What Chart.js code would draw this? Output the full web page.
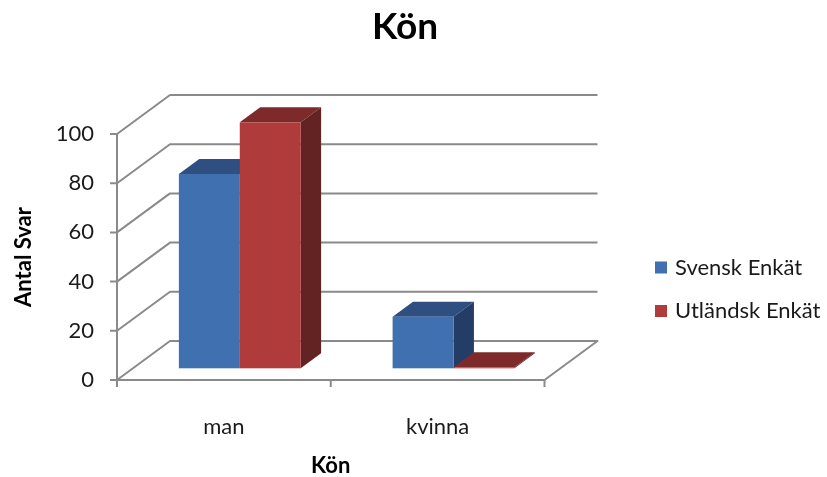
<!DOCTYPE html>
<html>
<head>
<meta charset="utf-8">
<script src="https://cdn.jsdelivr.net/npm/chart.js@4.4.0/dist/chart.umd.min.js"></script>
<style>
  html, body { margin: 0; padding: 0; background: #fff; }
</style>
</head>
<body>
<canvas id="chart" width="827" height="477"></canvas>
<script>
// data
const categories = ["man", "kvinna"];
const seriesNames = ["Svensk Enkät", "Utländsk Enkät"];
const svenskValues = [79, 21];
const utlandskValues = [100, 0];
const yTickValues = [0, 20, 40, 60, 80, 100];

// colours: front, top, side
const blueFaces = ["#4170b0", "#2e4f7f", "#243d66"];
const redFaces = ["#b03b3b", "#7e2a2a", "#632323"];

const FONT = "Lato";
const LINE = "#8a8a8a";

// oblique 3D look: back wall offset and where the bars sit in depth
const WALL_DX = 53, WALL_DY = -39;
const BAR_FRONT = 0.3, BAR_DEPTH = 0.385;

const box3d = {
  id: "box3d",
  beforeDatasetsDraw(chart) {
    const ctx = chart.ctx;
    const { left, right, top, bottom } = chart.chartArea;
    const y = chart.scales.y;
    ctx.save();
    ctx.strokeStyle = LINE;
    ctx.lineWidth = 2;
    ctx.lineJoin = "round";
    // left wall diagonals + back wall gridlines
    yTickValues.forEach(v => {
      const py = y.getPixelForValue(v);
      ctx.beginPath();
      ctx.moveTo(left, py);
      ctx.lineTo(left + WALL_DX, py + WALL_DY);
      ctx.lineTo(right + WALL_DX, py + WALL_DY);
      if (v === 0) ctx.lineTo(right, py);
      ctx.stroke();
    });
    // front value axis with ticks
    ctx.beginPath();
    ctx.moveTo(left, top);
    ctx.lineTo(left, bottom + 7);
    yTickValues.forEach(v => {
      const py = y.getPixelForValue(v);
      ctx.moveTo(left - 7, py);
      ctx.lineTo(left, py);
    });
    // front category axis with ticks
    ctx.moveTo(left - 7, bottom);
    ctx.lineTo(right, bottom);
    const catW = (right - left) / categories.length;
    for (let i = 0; i <= categories.length; i++) {
      ctx.moveTo(left + i * catW, bottom);
      ctx.lineTo(left + i * catW, bottom + 7);
    }
    ctx.stroke();
    ctx.restore();
  },
  beforeDatasetDraw() {
    return false; // bars are drawn as boxes below
  },
  afterDatasetsDraw(chart) {
    const ctx = chart.ctx;
    const sx = BAR_FRONT * WALL_DX, sy = BAR_FRONT * WALL_DY;
    const dx = BAR_DEPTH * WALL_DX, dy = BAR_DEPTH * WALL_DY;
    const faces = [blueFaces, redFaces];
    ctx.save();
    for (let i = 0; i < categories.length; i++) {
      chart.data.datasets.forEach((ds, d) => {
        const el = chart.getDatasetMeta(d).data[i];
        const x0 = el.x - el.width / 2 + sx, x1 = el.x + el.width / 2 + sx;
        const yt = Math.min(el.y, el.base - 1) + sy, yb = el.base + sy;
        const f = faces[d];
        // top
        ctx.fillStyle = f[1];
        ctx.beginPath();
        ctx.moveTo(x0, yt);
        ctx.lineTo(x1, yt);
        ctx.lineTo(x1 + dx, yt + dy);
        ctx.lineTo(x0 + dx, yt + dy);
        ctx.closePath();
        ctx.fill();
        // side
        ctx.fillStyle = f[2];
        ctx.beginPath();
        ctx.moveTo(x1, yt);
        ctx.lineTo(x1 + dx, yt + dy);
        ctx.lineTo(x1 + dx, yb + dy);
        ctx.lineTo(x1, yb);
        ctx.closePath();
        ctx.fill();
        // front
        ctx.fillStyle = f[0];
        ctx.fillRect(x0, yt, x1 - x0, yb - yt);
      });
    }
    ctx.restore();
  },
  afterDraw(chart) {
    // legend
    const ctx = chart.ctx;
    const rows = [267.5, 311];
    ctx.save();
    ctx.font = "22px " + FONT;
    ctx.textBaseline = "middle";
    ctx.fillStyle = "#1a1a1a";
    chart.data.datasets.forEach((ds, d) => {
      ctx.fillStyle = ds.backgroundColor;
      ctx.fillRect(655, rows[d] - 6, 12, 12);
      ctx.fillStyle = "#1a1a1a";
      ctx.fillText(ds.label, 675, rows[d]);
    });
    ctx.restore();
  }
};

new Chart(document.getElementById("chart"), {
  type: "bar",
  data: {
    labels: categories,
    datasets: [
      { label: seriesNames[0], data: svenskValues, backgroundColor: blueFaces[0] },
      { label: seriesNames[1], data: utlandskValues, backgroundColor: redFaces[0] }
    ]
  },
  options: {
    responsive: false,
    devicePixelRatio: 1,
    animation: false,
    events: [],
    categoryPercentage: 0.57,
    barPercentage: 1.0,
    layout: { padding: { left: 0, right: 17, top: 0, bottom: 0 } },
    plugins: {
      legend: { display: false },
      tooltip: { enabled: false },
      title: {
        display: true,
        text: "Kön",
        color: "#000",
        font: { family: FONT, size: 37, weight: "bold", lineHeight: 1.2 },
        padding: { top: 5, bottom: 84.6 }
      }
    },
    scales: {
      x: {
        grid: { display: false },
        border: { display: false },
        ticks: { color: "#1a1a1a", font: { family: FONT, size: 22 }, padding: 26 },
        title: {
          display: true,
          text: "Kön",
          color: "#000",
          font: { family: FONT, size: 22, weight: "bold", lineHeight: 1 },
          padding: { top: 0, bottom: 0 }
        },
        afterFit: s => { s.height = 97; }
      },
      y: {
        min: 0,
        max: 100,
        grid: { display: false, drawTicks: false },
        border: { display: false },
        ticks: { stepSize: 20, color: "#1a1a1a", font: { family: FONT, size: 22 }, padding: 23 },
        title: {
          display: true,
          text: "Antal Svar",
          color: "#000",
          font: { family: FONT, size: 22, weight: "bold", lineHeight: 1.2 },
          padding: { top: 11, bottom: 0 }
        },
        afterFit: s => { s.width = 117; }
      },
      // empty axis that only reserves room for the wall and legend
      yR: {
        position: "right",
        grid: { display: false, drawTicks: false },
        border: { display: false },
        ticks: { display: false },
        afterFit: s => { s.width = 265.5; }
      }
    }
  },
  plugins: [box3d]
});
</script>
</body>
</html>
